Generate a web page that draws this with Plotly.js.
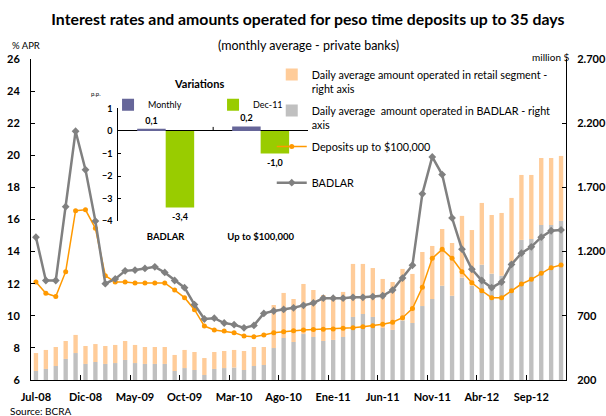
<!DOCTYPE html>
<html>
<head>
<meta charset="utf-8">
<script src="https://cdn.plot.ly/plotly-3.0.1.min.js"></script>
<style>html,body{margin:0;padding:0;background:#fff;}#chart{width:606px;height:416px;}</style>
</head>
<body>
<div id="chart"></div>
<script>
// ---- Data ----
var months = ['Jul-08','Ago-08','Sep-08','Oct-08','Nov-08','Dic-08','Ene-09','Feb-09','Mar-09','Abr-09','May-09','Jun-09',
  'Jul-09','Ago-09','Sep-09','Oct-09','Nov-09','Dic-09','Ene-10','Feb-10','Mar-10','Abr-10','May-10','Jun-10',
  'Jul-10','Ago-10','Sep-10','Oct-10','Nov-10','Dic-10','Ene-11','Feb-11','Mar-11','Abr-11','May-11','Jun-11',
  'Jul-11','Ago-11','Sep-11','Oct-11','Nov-11','Dic-11','Ene-12','Feb-12','Mar-12','Abr-12','May-12','Jun-12',
  'Jul-12','Ago-12','Sep-12','Oct-12','Nov-12','Dic-12'];

// Daily average amount operated in BADLAR segment (million $, right axis)
var amountBadlar = [270,286,309,364,410,325,340,325,332,356,332,325,
  325,325,270,293,278,239,286,293,297,278,309,317,
  449,527,496,558,535,504,512,535,691,714,691,605,
  590,664,644,776,831,934,856,997,934,1098,1028,1012,
  1121,1291,1298,1407,1407,1439];

// Daily average amount operated in retail segment (million $, right axis)
var amountRetail = [140,148,148,140,141,140,140,140,141,148,141,132,
  132,132,125,141,140,132,132,133,137,148,148,140,
  335,351,335,390,366,358,342,351,413,390,381,382,
  373,401,382,421,413,442,411,481,434,481,457,489,
  497,506,499,522,522,506];

// Interest rates (% APR, left axis)
var ratesDeposits = [12.1,11.4,11.2,12.75,16.55,16.6,15.45,12.5,12.1,12.1,12.05,12.05,
  12.05,12.05,11.6,11.13,10.38,9.36,9.12,9.05,8.95,8.74,8.7,8.8,
  8.95,9.0,9.07,9.12,9.14,9.16,9.18,9.22,9.26,9.32,9.38,9.47,
  9.6,9.88,10.45,11.78,13.58,14.14,13.58,12.75,12.06,11.56,11.13,11.13,
  11.56,11.98,12.27,12.65,13.0,13.17];

var ratesBadlar = [14.9,12.2,12.2,16.8,21.5,19.1,15.9,12.0,12.3,12.8,12.85,12.95,
  13.05,12.7,12.2,11.75,10.7,9.8,9.85,9.55,9.45,9.25,9.4,10.15,
  10.3,10.4,10.5,10.65,10.8,11.1,11.1,11.1,11.15,11.15,11.2,11.25,
  11.6,12.35,13.15,17.6,19.9,18.8,16.1,14.15,12.9,12.2,11.75,12.1,
  13.2,13.9,14.3,14.9,15.3,15.35];

// Inset: variations (p.p.)
var varCategories = ['BADLAR', 'Up to $100,000'];
var varMonthly = [0.1, 0.2];
var varDec11 = [-3.4, -1.0];

var FONT = 'Lato, "Open Sans", sans-serif';

var traces = [
  {type:'bar', x:months, y:amountBadlar, yaxis:'y', xaxis:'x',
   name:'Daily average  amount operated in BADLAR - right<br>axis', legendgroup:'g2',
   marker:{color:'#C0C0C0'}, legendrank:2, hoverinfo:'skip'},
  {type:'bar', x:months, y:amountRetail, yaxis:'y', xaxis:'x',
   name:'Daily average amount operated in retail segment -<br>right axis', legendgroup:'g1',
   marker:{color:'#FFCC99'}, legendrank:1, hoverinfo:'skip'},
  {type:'scatter', mode:'lines+markers', x:months, y:ratesDeposits, yaxis:'y2', xaxis:'x',
   name:'Deposits up to $100,000<br> ', legendgroup:'g3', line:{color:'#FF9900', width:1.5},
   marker:{symbol:'circle', size:5, color:'#FF9900'}, legendrank:3, cliponaxis:false},
  {type:'scatter', mode:'lines+markers', x:months, y:ratesBadlar, yaxis:'y2', xaxis:'x',
   name:'BADLAR<br> ', legendgroup:'g4', line:{color:'#808080', width:2.5},
   marker:{symbol:'diamond', size:6, color:'#808080'}, legendrank:4, cliponaxis:false},
  {type:'bar', x:varCategories, y:varMonthly, xaxis:'x3', yaxis:'y3', name:'Monthly',
   marker:{color:'#666699'}, width:0.3, offset:-0.3, legend:'legend2',
   texttemplate:'%{y:.1f}', textposition:'outside', cliponaxis:false,
   textfont:{family:FONT, size:9, color:'#000', weight:'bold'}},
  {type:'bar', x:varCategories, y:varDec11, xaxis:'x3', yaxis:'y3', name:'Dec-11',
   marker:{color:'#99CC00'}, width:0.3, offset:0, legend:'legend2',
   texttemplate:'%{y:.1f}', textposition:'outside', cliponaxis:false,
   textfont:{family:FONT, size:9, color:'#000', weight:'bold'}}
];

var tickBold = {family:FONT, size:11, color:'#000', weight:'bold'};

var layout = {
  width:606, height:416,
  margin:{l:31, r:40, t:59, b:36},
  paper_bgcolor:'#fff', plot_bgcolor:'rgba(0,0,0,0)',
  font:{family:FONT, color:'#000'},
  separators:',.',
  barmode:'relative', bargap:0.56,
  title:{text:'<b>Interest rates and amounts operated for peso time deposits up to 35 days</b>',
    x:0.508, xanchor:'center', xref:'container', y:0.952, yanchor:'middle', yref:'container',
    font:{family:FONT, size:15.8, color:'#000'}},
  xaxis:{type:'category', domain:[0,1], range:[-0.5,53.5], tickmode:'linear', tick0:0, dtick:5,
    tickson:'boundaries', ticks:'inside', ticklen:5, tickcolor:'#000', showline:true,
    linecolor:'#000', linewidth:1, showgrid:false, zeroline:false, tickangle:0,
    tickfont:tickBold, ticklabelstandoff:7, anchor:'y'},
  yaxis:{side:'right', range:[200,2700], dtick:500, tick0:200, tickformat:',d',
    ticks:'inside', ticklen:4, tickcolor:'#000', showline:true, linecolor:'#000', linewidth:1,
    showgrid:false, zeroline:false, tickfont:tickBold, ticklabelstandoff:8},
  yaxis2:{side:'left', overlaying:'y', range:[6,26], dtick:2, tick0:6,
    ticks:'inside', ticklen:4, tickcolor:'#000', showline:true, linecolor:'#000', linewidth:1,
    showgrid:false, zeroline:false, tickfont:tickBold, ticklabelstandoff:8},
  xaxis3:{type:'category', domain:[0.163,0.518], anchor:'y3', range:[-0.5,1.5],
    showline:false, ticks:'', showgrid:false, zeroline:false,
    tickfont:{family:FONT, size:9.5, color:'#000', weight:'bold'}, ticklabelstandoff:8},
  yaxis3:{domain:[0.495,0.846], anchor:'x3', range:[-4,1], dtick:1,
    ticks:'inside', ticklen:3, tickcolor:'#000', showline:true, linecolor:'#000', linewidth:1,
    showgrid:false, zeroline:true, zerolinecolor:'#000', zerolinewidth:1,
    tickfont:{family:FONT, size:9, color:'#000', weight:'bold'}, ticklabelstandoff:3},
  showlegend:true,
  legend:{x:0.45, xanchor:'left', y:0.994, yanchor:'top', orientation:'v',
    traceorder:'grouped', valign:'top', bgcolor:'rgba(0,0,0,0)', tracegroupgap:5,
    font:{family:FONT, size:10.8, color:'#000'}},
  legend2:{x:0.144, xanchor:'left', y:0.9025, yanchor:'top', orientation:'h',
    bgcolor:'rgba(0,0,0,0)', entrywidth:60, entrywidthmode:'pixels',
    font:{family:FONT, size:9, color:'#000'}},
  shapes:[
    {type:'line', xref:'x3', yref:'y3', x0:0.5, x1:0.5, y0:0, y1:0.18, line:{color:'#000', width:1}}
  ],
  annotations:[
    {text:'(monthly average - private banks)', xref:'paper', yref:'paper', x:0.518, y:1.0436,
     xanchor:'center', yanchor:'middle', showarrow:false, font:{family:FONT, size:12.5, color:'#000'}},
    {text:'% APR', xref:'paper', yref:'paper', x:-0.039, y:1.0436, xanchor:'left', yanchor:'middle',
     showarrow:false, font:{family:FONT, size:9.5, color:'#000'}},
    {text:'million $', xref:'paper', yref:'paper', x:1.011, y:1.006, xanchor:'right', yanchor:'middle',
     showarrow:false, font:{family:FONT, size:10, color:'#000'}},
    {text:'Source: BCRA', xref:'paper', yref:'paper', x:-0.043, y:-0.0966, xanchor:'left', yanchor:'middle',
     showarrow:false, font:{family:FONT, size:10, color:'#000'}},
    {text:'<b>Variations</b>', xref:'paper', yref:'paper', x:0.314, y:0.925, xanchor:'center', yanchor:'middle',
     showarrow:false, font:{family:FONT, size:11, color:'#000'}},
    {text:'p.p.', xref:'paper', yref:'paper', x:0.1215, y:0.894, xanchor:'center', yanchor:'middle',
     showarrow:false, font:{family:FONT, size:6, color:'#000'}}
  ]
};

Plotly.newPlot('chart', traces, layout, {displayModeBar:false, staticPlot:true});
</script>
</body>
</html>
